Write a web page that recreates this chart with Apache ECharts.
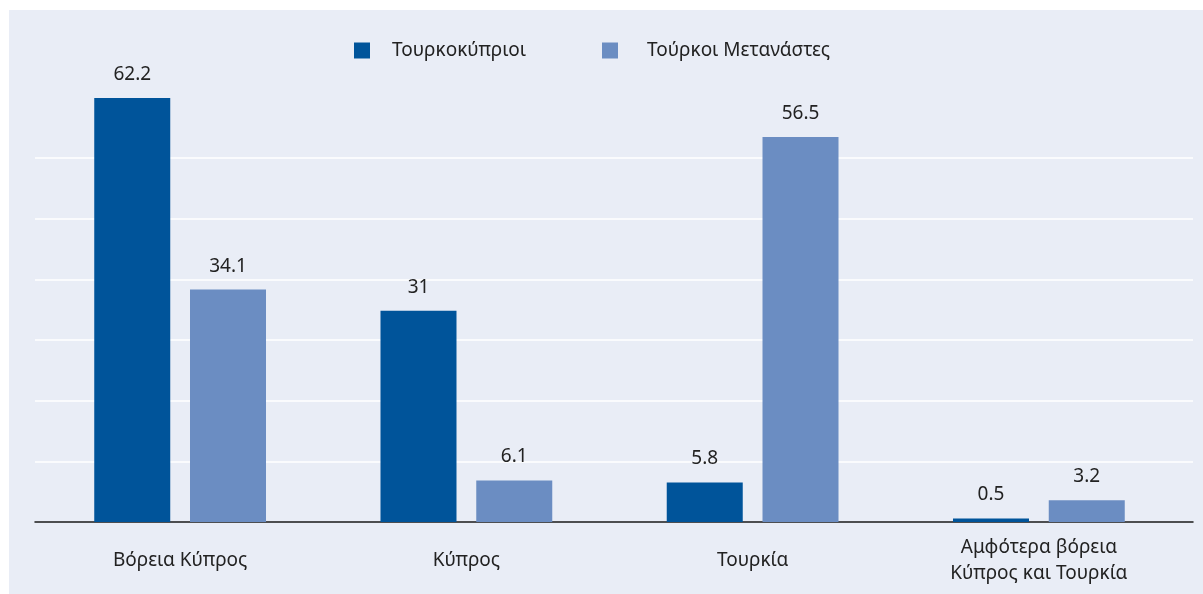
<!DOCTYPE html>
<html>
<head>
<meta charset="utf-8">
<script src="https://cdn.jsdelivr.net/npm/echarts@6/dist/echarts.min.js"></script>
<style>
  html, body { margin: 0; padding: 0; background: #ffffff; }
  #bg { position: absolute; left: 9px; top: 10px; width: 1194px; height: 584px; background: #e9edf6; }
  #chart { position: absolute; left: 0; top: 0; width: 1203px; height: 594px; }
</style>
</head>
<body>
<div id="bg"></div>
<div id="chart"></div>
<script>
// data
const categories = ['Βόρεια Κύπρος', 'Κύπρος', 'Τουρκία', 'Αμφότερα βόρεια\nΚύπρος και Τουρκία']
const seriesNames = ['Τουρκοκύπριοι', 'Τούρκοι Μετανάστες']
const turkishCypriots = [62.2, 31, 5.8, 0.5]
const turkishMigrants = [34.1, 6.1, 56.5, 3.2]
const yInterval = 8.9
const yMax = 62.3

const font = "'Noto Sans', 'Open Sans', sans-serif"
const dark = '#00549a'
const light = '#6b8dc2'

const myChart = echarts.init(document.getElementById('chart'))

const valueLabel = {
  show: true,
  position: 'top',
  distance: 14,
  color: '#222',
  fontSize: 19,
  fontFamily: font
}

const option = {
  backgroundColor: 'transparent',
  animation: false,
  legend: {
    left: 349,
    top: 36,
    icon: 'rect',
    itemWidth: 16,
    itemHeight: 16,
    itemGap: 76,
    textStyle: { color: '#222', fontSize: 19, fontFamily: font, padding: [0, 0, 0, 17] },
    data: [
      { name: seriesNames[0] },
      { name: seriesNames[1], textStyle: { padding: [0, 0, 0, 24] } }
    ]
  },
  grid: [
    // gridlines + baseline
    { left: 35, right: 10, top: 97.4, bottom: 72 },
    // bars
    { left: 37, right: 21, top: 97.4, bottom: 72 }
  ],
  xAxis: [
    {
      gridIndex: 0, type: 'value', min: 0, max: 1,
      axisLine: { show: true, lineStyle: { color: '#1a1a1a', width: 1.5 } },
      axisTick: { show: false }, axisLabel: { show: false }, splitLine: { show: false }
    },
    {
      gridIndex: 1, type: 'category', data: categories,
      axisLine: { show: false }, axisTick: { show: false },
      axisLabel: {
        color: '#222', fontSize: 19, fontFamily: font, lineHeight: 26,
        margin: 39, verticalAlign: 'middle', interval: 0
      }
    }
  ],
  yAxis: [
    {
      gridIndex: 0, type: 'value', min: 0, max: yMax, interval: yInterval,
      axisLine: { show: false }, axisTick: { show: false }, axisLabel: { show: false },
      splitLine: { show: true, showMinLine: false, showMaxLine: false, lineStyle: { color: '#ffffff', width: 1.5 } }
    },
    {
      gridIndex: 1, type: 'value', min: 0, max: yMax, interval: yInterval,
      axisLine: { show: false }, axisTick: { show: false }, axisLabel: { show: false },
      splitLine: { show: false }
    }
  ],
  series: [
    {
      name: seriesNames[0], type: 'bar', xAxisIndex: 1, yAxisIndex: 1,
      data: turkishCypriots, barWidth: 76, barGap: '26%',
      itemStyle: { color: dark }, label: valueLabel
    },
    {
      name: seriesNames[1], type: 'bar', xAxisIndex: 1, yAxisIndex: 1,
      data: turkishMigrants, barWidth: 76,
      itemStyle: { color: light }, label: valueLabel
    }
  ]
}

myChart.setOption(option)
</script>
</body>
</html>
